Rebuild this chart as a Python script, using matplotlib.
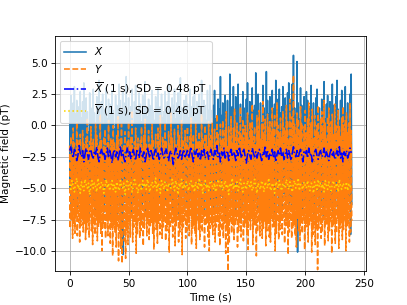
import numpy as np
import matplotlib
matplotlib.use("Agg")
import matplotlib.pyplot as plt

# raw samples, 2 per second (X)
x_raw = [
 1.2,-5.1, 2.4,-6.3, 0.3,-4.8, 1.8,-5.9, 3.1,-6.6, 0.9,-4.5, 2.0,-7.0, -0.2,-5.4, 1.5,-6.1, 2.7,-4.9,
 0.6,-5.7, 1.9,-6.8, 3.4,-5.2, 0.4,-4.6, 2.2,-6.4, 1.1,-5.0, -0.5,-7.2, 2.6,-5.6, 1.4,-4.7, 0.8,-6.0,
 2.9,-5.3, 1.0,-6.7, 0.2,-4.9, 2.3,-5.8, 1.6,-7.1, 3.6,-5.5, 0.7,-4.4, 1.9,-6.2, 2.5,-5.0, 0.0,-6.9,
 1.3,-5.6, 3.0,-4.8, 0.5,-6.5, 2.1,-5.1, 1.7,-7.3, 0.9,-5.9, 2.8,-4.6, 1.2,-6.4, -0.3,-5.3, 2.4,-6.0,
 1.6,-7.4, 0.4,-5.5, 3.3,-6.8, 2.0,-9.6, 1.1,-5.2, 2.7,-10.3, 0.6,-6.1, 1.8,-4.9, 3.9,-6.6, 1.0,-5.7,
 2.2,-6.3, 0.8,-5.0, 1.5,-7.0, 2.9,-5.4, 0.1,-6.2, 1.9,-4.7, 3.2,-5.8, 1.3,-6.9, 0.5,-5.1, 2.6,-6.5,
 1.7,-5.3, 0.3,-6.7, 2.4,-4.8, 1.0,-5.9, 3.5,-7.2, 1.4,-5.6, 0.7,-6.0, 2.1,-4.5, 1.6,-6.4, 0.2,-5.2,
 2.8,-6.1, 1.2,-5.5, 0.4,-7.5, 2.3,-5.0, 1.8,-6.3, 3.0,-4.9, 0.9,-5.8, 1.5,-6.8, 2.5,-5.3, 0.6,-6.6,
 1.1,-5.4, 2.7,-6.2, 0.0,-4.7, 1.9,-7.0, 3.3,-5.6, 1.3,-6.0, 0.8,-5.1, 2.2,-6.9, 1.6,-5.7, 2.9,-4.8,
 0.5,-6.4, 1.8,-5.2, 2.6,-7.3, 1.0,-5.9, 3.8,-6.1, 1.4,-4.6, 0.3,-5.5, 2.0,-6.7, 1.2,-5.0, 2.4,-6.3,
 1.7,-5.8, 0.6,-7.1, 2.9,-5.3, 1.5,-6.0, 0.2,-4.9, 2.3,-6.6, 3.1,-5.4, 1.0,-6.2, 1.9,-5.1, 0.7,-7.4,
 2.5,-5.6, 1.3,-6.5, 3.6,-4.8, 0.9,-5.9, 2.0,-6.8, 1.6,-5.2, 0.4,-6.3, 2.8,-5.7, 1.2,-4.7, 3.2,-6.1,
 1.2,-5.5, 0.2,-7.0, 1.6,-5.0, 2.8,-6.4, 0.5,-5.8, -0.1,-6.9, 2.1,-5.3, 1.3,-6.2, 3.9,-4.9, 0.8,-5.6,
 1.8,-6.7, 0.3,-5.1, 2.4,-7.2, 1.1,-5.7, 2.0,-6.0, -0.3,-5.4, 4.1,-6.5, 0.9,-4.8, 1.5,-6.3, 3.1,-5.9,
 0.4,-5.2, 2.3,-6.8, 1.0,-5.5, 3.3,-6.1, 0.1,-7.3, 1.7,-5.0, 0.6,-6.4, 2.7,-5.6, 1.4,-6.9, 0.0,-5.3,
 2.1,-6.2, 3.4,-5.7, 0.8,-4.9, 1.9,-6.6, 0.3,-5.4, 3.0,-7.0, 1.2,-5.8, 1.6,-6.1, 4.2,-5.1, 0.5,-6.7,
 2.5,-5.5, 1.1,-6.3, 1.8,-5.9, 0.2,-7.1, 3.2,-5.2, 1.4,-6.5, 0.7,-5.6, 4.3,-6.0, 2.0,-4.8, 0.9,-6.8,
 2.3,-5.7, 0.1,-6.2, 2.8,-5.3, 1.3,-7.0, 1.7,-5.9, 3.6,-6.4, 0.4,-5.1, 2.1,-6.7, 2.9,-5.5, 1.0,-6.0,
 1.5,-6.6, 3.1,-5.4, 0.6,-5.8, 2.2,-7.2, 0.3,-6.1, 2.6,-5.0, 3.4,-6.5, 1.2,-5.7, 1.9,-6.3, 3.3,-5.2,
 5.6,-6.9, 1.4,-5.5, 0.8,-6.2, 5.1,-10.1, 1.8,-5.8, 0.5,-6.6, 3.0,-5.3, 1.6,-7.0, 0.2,-5.9, 2.3,-6.4,
 1.1,-5.6, 2.7,-6.1, 2.0,-5.2, 0.3,-6.8, 1.5,-5.7, 3.2,-6.3, 0.9,-5.0, 1.8,-7.1, 0.4,-5.8, 2.2,-6.5,
 2.9,-5.4, 0.7,-6.9, 1.4,-5.9, 0.0,-6.2, 2.1,-5.3, 1.2,-7.3, 3.5,-5.6, 0.5,-6.0, 1.7,-5.1, 2.4,-6.7,
 1.0,-5.8, 1.9,-6.4, 0.2,-5.5, 3.3,-7.0, 1.6,-5.7, 0.8,-6.3, 2.3,-5.2, 3.6,-6.6, 1.3,-5.9, 0.4,-6.1,
 2.0,-5.4, 2.8,-6.8, 0.6,-5.6, 1.4,-6.2, 3.1,-7.4, 0.9,-5.3, 1.8,-6.0, 0.3,-5.8, 2.5,-8.7, 4.1,-6.3,
]

# raw samples, 2 per second (Y)
y_raw = [
 -1.6,-8.2, -0.9,-7.5, -2.4,-9.0, -0.2,-7.9, -1.4,-8.6, -2.1,-7.2, 0.3,-8.8, -1.2,-7.7, -1.8,-9.3, -0.7,-8.0,
 -2.2,-7.4, -0.4,-8.5, -1.5,-7.8, -2.6,-9.1, -1.0,-8.3, 0.6,-7.6, -1.9,-8.9, -1.3,-7.3, -0.1,-8.4, -1.7,-9.5,
 -1.1,-7.9, -2.3,-8.7, 0.2,-7.5, -0.8,-9.2, -2.0,-8.1, -1.5,-7.7, 0.9,-8.6, -1.2,-10.0, -2.5,-7.8, -0.9,-8.3,
 -0.3,-9.0, -1.8,-7.6, -1.4,-8.8, 0.4,-7.4, -2.2,-9.4, -1.0,-8.2, -1.6,-10.4, 0.0,-7.9, -1.3,-8.5, -1.9,-9.7,
 -0.8,-8.0, 0.7,-10.8, -1.7,-8.6, -1.1,-9.8, 0.1,-11.0, -2.0,-8.3, -1.5,-9.2, -0.5,-10.6, -2.3,-8.4, -1.2,-9.5,
 0.3,-7.8, -1.6,-8.9, -0.9,-7.5, 1.2,-9.3, -2.1,-8.1, -1.3,-7.7, -0.2,-10.2, -1.8,-8.7, -1.0,-7.6, -2.4,-9.0,
 -1.2,-8.4, -0.1,-7.9, -1.9,-9.6, -0.8,-8.2, 0.5,-7.4, -1.5,-8.8, -2.2,-7.6, -0.4,-9.1, -1.4,-8.0, -1.7,-7.7,
 0.1,-8.6, -1.1,-9.9, -2.0,-7.5, -0.7,-8.3, -2.5,-9.4, -0.2,-7.8, -1.3,-8.7, 0.8,-7.3, -1.8,-9.0, -0.9,-8.1,
 -1.6,-7.6, 0.2,-9.2, -1.2,-8.4, -2.1,-7.9, -0.5,-10.1, -1.5,-8.2, 1.0,-7.7, -1.0,-8.9, -1.9,-7.4, -0.3,-9.6,
 -1.4,-8.0, -2.2,-7.5, 0.0,-9.3, -0.8,-8.5, -1.7,-7.8, 0.4,-10.3, -1.1,-8.1, -2.0,-7.6, -0.4,-9.0, -1.3,-8.4,
 -0.1,-7.7, -1.8,-8.8, -0.9,-7.3, 0.6,-9.5, -1.5,-8.2, -0.7,-7.9, -2.1,-8.6, 0.2,-9.8, -1.2,-7.5, -1.6,-8.3,
 -0.5,-9.1, -1.4,-7.8, 0.9,-8.5, -1.0,-7.4, -1.9,-9.7, 0.0,-8.0, -0.8,-7.6, -1.7,-8.9, 0.3,-10.0, -1.1,-8.2,
 -0.8,-7.9, 0.6,-8.7, -1.8,-7.5, -0.3,-9.3, -1.4,-8.1, 0.9,-7.7, -0.7,-8.8, -2.0,-9.6, 0.1,-7.4, -1.1,-8.4,
 0.4,-9.0, -1.5,-7.8, -0.4,-10.2, 1.1,-8.3, -1.7,-11.6, -0.1,-9.4, -0.9,-7.6, 0.7,-8.6, -1.3,-7.9, -0.2,-9.1,
 1.3,-8.0, -1.0,-7.5, 0.2,-9.7, -1.6,-8.4, -0.5,-7.7, 1.5,-8.9, -0.8,-7.3, 0.5,-9.2, -1.4,-8.1, 0.0,-7.8,
 -0.6,-8.7, 1.0,-9.9, -1.2,-7.6, 0.3,-8.3, -0.3,-7.4, 1.7,-9.5, -0.9,-8.0, -0.1,-7.9, -1.5,-10.4, 0.8,-8.5,
 -0.4,-7.7, 1.2,-8.8, -1.1,-7.5, 0.1,-9.0, 1.9,-8.2, -0.7,-7.6, 0.5,-9.6, -1.3,-8.4, 0.9,-7.8, -0.2,-8.9,
 0.3,-9.3, -0.8,-7.4, 1.4,-8.1, -0.3,-7.9, 0.8,-10.0, -1.4,-8.6, 1.8,-7.7, 0.0,-9.1, -0.6,-8.3, 0.6,-7.6,
 -0.9,-8.7, 1.1,-7.5, -0.1,-9.4, -0.5,-8.0, 1.6,-7.8, 0.4,-10.3, -1.2,-8.5, 2.1,-7.6, -0.2,-9.0, 0.7,-8.2,
 4.0,-7.9, 0.1,-8.8, -0.7,-9.7, 1.0,-7.4, 0.5,-8.4, -0.4,-9.2, 1.5,-7.7, 0.2,-8.6, -1.3,-7.5, -0.1,-9.9,
 1.2,-8.1, -0.6,-7.8, 0.6,-9.3, 1.8,-8.0, -0.3,-7.6, 0.3,-10.1, 1.3,-8.7, -1.0,-7.9, 0.8,-9.5, -0.5,-8.3,
 0.0,-11.5, 1.6,-8.2, -0.8,-7.7, 0.5,-9.0, 1.1,-8.5, -0.4,-7.5, 2.0,-9.6, 0.2,-8.0, -1.1,-7.8, 0.7,-9.2,
 1.4,-8.4, -0.2,-7.6, 0.3,-10.2, 0.9,-8.1, -0.7,-7.9, 1.7,-9.4, 0.1,-8.6, -0.5,-7.4, 1.2,-9.8, -0.1,-8.2,
 -0.9,-7.7, 0.6,-9.1, 1.5,-8.3, -0.3,-7.5, 0.4,-10.0, 1.0,-8.0, -0.6,-7.8, 0.2,-9.3, 1.8,-8.5, -0.4,-7.6,
]

# 1 s means
x_mean = [
 -2.0, -1.7, -2.3, -2.6, -1.9, -2.1, -2.8, -2.4, -1.6, -2.2, -2.5, -2.0, -2.9, -2.3, -1.8, -2.2, -2.7, -2.1, -1.9, -2.4,
 -2.6, -2.0, -2.3, -1.7, -2.5, -2.9, -2.2, -1.9, -2.4, -2.1, -2.7, -2.3, -1.8, -2.6, -2.0, -2.4, -3.0, -2.2, -1.9, -2.5,
 -2.1, -2.8, -2.3, -1.6, -2.4, -2.0, -2.6, -2.9, -2.2, -1.8, -2.5, -2.1, -2.7, -2.3, -1.9, -2.4, -2.8, -2.0, -2.2, -2.6,
 -1.8, -2.3, -2.5, -2.1, -2.9, -2.4, -1.7, -2.2, -2.6, -2.0, -2.3, -2.8, -2.1, -1.9, -2.5, -2.2, -2.7, -2.4, -1.8, -2.3,
 -2.6, -2.1, -1.9, -2.4, -2.8, -2.2, -2.0, -2.5, -3.1, -2.3, -1.8, -2.1, -2.6, -2.4, -2.0, -2.7, -2.2, -1.9, -2.5, -2.3,
 -2.0, -2.6, -2.2, -1.7, -2.4, -2.9, -2.1, -2.3, -1.8, -2.5, -2.2, -2.8, -2.0, -2.4, -1.9, -2.6, -2.3, -2.1, -2.7, -2.2,
 -1.9, -2.4, -2.7, -2.0, -2.3, -1.6, -2.5, -2.2, -2.9, -2.1, -2.4, -1.8, -2.6, -2.3, -2.0, -2.8, -2.2, -1.9, -2.5, -2.1,
 -2.3, -2.8, -2.0, -2.4, -1.7, -2.2, -2.6, -2.1, -1.9, -2.5, -3.0, -2.3, -2.0, -2.4, -2.7, -1.8, -2.2, -2.5, -2.1, -2.6,
 -2.2, -1.9, -2.4, -2.8, -2.1, -2.3, -1.6, -2.5, -2.0, -2.7, -2.2, -2.4, -1.9, -2.6, -2.1, -2.9, -2.3, -2.0, -2.4, -1.8,
 -2.5, -2.1, -2.7, -2.3, -1.9, -2.6, -2.0, -2.4, -2.8, -2.2, -1.7, -2.3, -2.5, -2.0, -2.6, -2.2, -1.9, -2.4, -2.9, -2.1,
 -2.3, -2.0, -2.6, -1.8, -2.4, -2.2, -2.9, -2.5, -2.1, -1.9, -2.4, -2.7, -2.2, -2.0, -2.5, -2.3, -1.8, -2.6, -2.1, -2.4,
 -2.8, -2.2, -1.9, -2.5, -2.1, -2.7, -2.3, -2.0, -2.4, -1.7, -2.6, -2.2, -2.9, -2.1, -2.4, -2.0, -2.6, -2.3, -1.8, -2.2,
]

y_mean = [
 -4.7, -5.1, -4.4, -4.9, -5.3, -4.6, -4.2, -5.0, -4.8, -5.4, -4.5, -4.9, -5.2, -4.3, -4.7, -5.0, -4.6, -5.5, -4.8, -4.4,
 -5.0, -4.6, -4.9, -5.3, -4.2, -4.8, -5.1, -4.5, -4.7, -5.4, -4.9, -4.3, -5.0, -4.6, -5.2, -4.8, -4.4, -5.1, -4.7, -5.3,
 -4.5, -4.9, -5.2, -4.4, -4.8, -5.0, -4.6, -5.5, -4.7, -4.3, -5.1, -4.8, -4.5, -5.3, -4.9, -4.2, -4.7, -5.0, -5.4, -4.6,
 -4.8, -5.2, -4.4, -4.9, -4.6, -5.1, -4.3, -4.7, -5.3, -4.8, -4.5, -5.0, -4.9, -4.2, -5.2, -4.6, -4.8, -5.4, -4.4, -4.7,
 -5.1, -4.5, -4.8, -5.3, -4.6, -4.9, -5.0, -4.3, -4.7, -5.2, -4.4, -4.8, -5.5, -4.6, -4.9, -4.3, -5.1, -4.7, -5.0, -4.5,
 -4.9, -5.2, -4.6, -4.4, -5.0, -4.7, -5.3, -4.5, -4.8, -5.1, -4.2, -4.9, -4.6, -5.4, -4.8, -4.4, -5.0, -4.7, -5.2, -4.6,
 -4.4, -4.8, -5.1, -4.6, -5.3, -4.9, -4.3, -4.7, -5.0, -4.5, -5.2, -4.8, -4.4, -5.0, -4.7, -5.5, -4.6, -4.9, -4.2, -5.1,
 -4.7, -5.0, -4.5, -5.2, -4.8, -4.3, -4.9, -5.3, -4.6, -4.8, -5.1, -4.4, -4.7, -5.0, -4.5, -5.2, -4.9, -4.3, -4.8, -5.4,
 -4.6, -4.9, -5.1, -4.4, -4.7, -5.3, -4.5, -4.8, -5.0, -4.2, -4.9, -5.2, -4.6, -4.8, -5.4, -4.5, -4.7, -5.0, -4.4, -4.9,
 -5.2, -4.6, -4.8, -5.0, -4.3, -4.7, -5.1, -4.5, -4.9, -5.3, -4.6, -4.4, -5.0, -4.8, -4.2, -5.2, -4.7, -4.9, -5.1, -4.5,
 -4.8, -5.0, -4.4, -4.9, -5.2, -4.6, -4.7, -5.4, -4.5, -4.8, -5.1, -4.3, -4.9, -4.6, -5.0, -4.7, -5.3, -4.4, -4.8, -5.1,
 -4.5, -4.9, -5.2, -4.7, -4.4, -5.0, -4.8, -4.6, -5.3, -4.3, -4.9, -5.1, -4.6, -4.8, -5.0, -4.5, -5.2, -4.7, -4.9, -4.6,
]

labels = [r"$X$", r"$Y$",
          r"$\overline{X}$ (1 s), SD = 0.48 pT",
          r"$\overline{Y}$ (1 s), SD = 0.46 pT"]

t_raw = np.arange(len(x_raw)) * 0.5
t_mean = np.arange(len(x_mean)) * 1.0

DPI = 76
fig = plt.figure(figsize=(407 / DPI, 305 / DPI), dpi=DPI)
ax = fig.add_axes([0.135, 0.111, 0.764, 0.771])
ax.plot(t_raw, x_raw, color="C0", ls="-", label=labels[0])
ax.plot(t_raw, y_raw, color="C1", ls="--", label=labels[1])
ax.plot(t_mean, x_mean, color="blue", ls="-.", label=labels[2])
ax.plot(t_mean, y_mean, color="gold", ls=":", label=labels[3])
ax.grid(True)
ax.set_xlim(-12.5, 251.5)
ax.set_ylim(-11.62, 7.14)
ax.set_yticks([5.0, 2.5, 0.0, -2.5, -5.0, -7.5, -10.0])
ax.set_xlabel("Time (s)")
ax.set_ylabel("Magnetic field (pT)")
ax.legend(loc="upper left")
fig.savefig("out.png", dpi=DPI)
